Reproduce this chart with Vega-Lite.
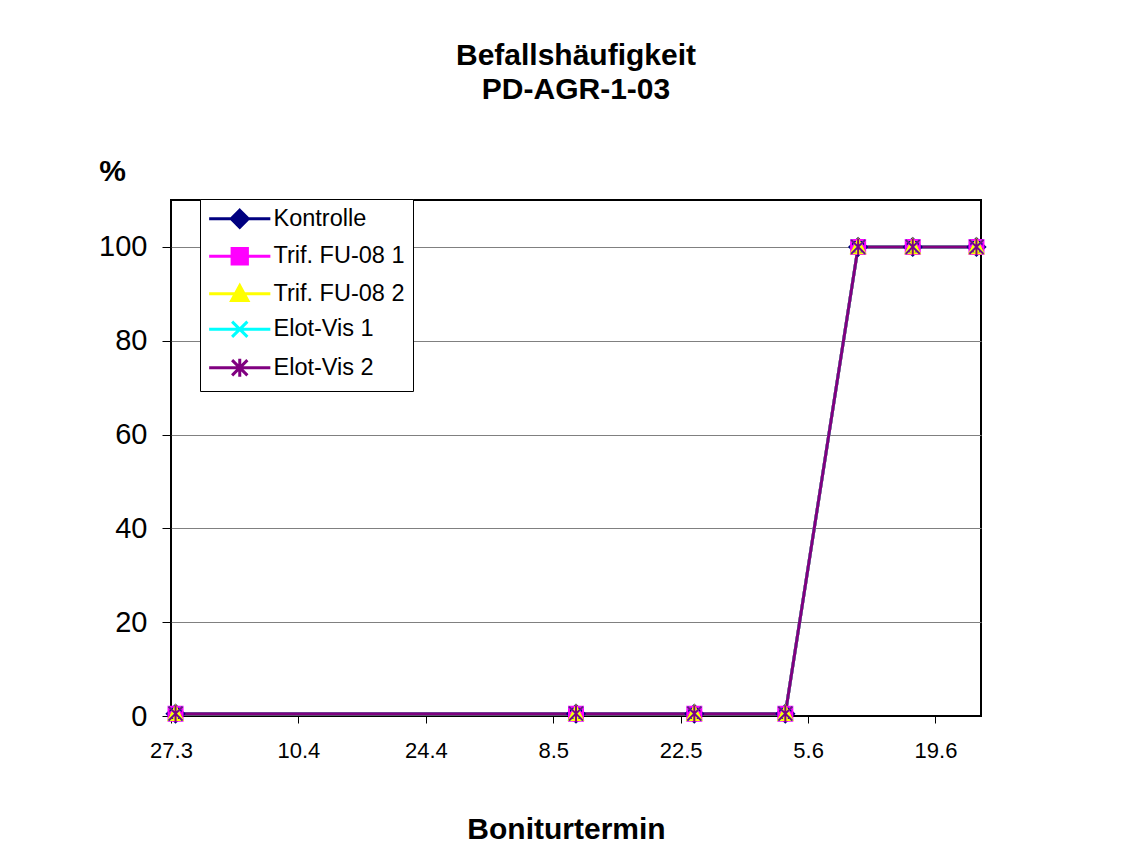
{
  "$schema": "https://vega.github.io/schema/vega-lite/v6.json",
  "width": 810,
  "height": 516,
  "autosize": {"type": "none"},
  "padding": {"left": 171, "top": 200, "right": 143, "bottom": 145},
  "background": "white",
  "config": {"view": {"stroke": "black", "strokeWidth": 2}, "font": "Liberation Sans"},
  "title": {
    "text": ["Befallshäufigkeit", "PD-AGR-1-03"],
    "fontSize": 30, "fontWeight": "bold", "font": "Liberation Sans", "color": "black",
    "lineHeight": 34, "anchor": "middle", "frame": "group", "baseline": "alphabetic", "offset": 27
  },
  "data": {"values": [
    {"date": "2003-03-27T12:00:00", "serie": "Kontrolle", "pct": 0.5},
    {"date": "2003-05-10T12:00:00", "serie": "Kontrolle", "pct": 0.5},
    {"date": "2003-05-23T12:00:00", "serie": "Kontrolle", "pct": 0.5},
    {"date": "2003-06-02T12:00:00", "serie": "Kontrolle", "pct": 0.5},
    {"date": "2003-06-10T12:00:00", "serie": "Kontrolle", "pct": 100},
    {"date": "2003-06-16T12:00:00", "serie": "Kontrolle", "pct": 100},
    {"date": "2003-06-23T12:00:00", "serie": "Kontrolle", "pct": 100},
    {"date": "2003-03-27T12:00:00", "serie": "Trif. FU-08 1", "pct": 0.5},
    {"date": "2003-05-10T12:00:00", "serie": "Trif. FU-08 1", "pct": 0.5},
    {"date": "2003-05-23T12:00:00", "serie": "Trif. FU-08 1", "pct": 0.5},
    {"date": "2003-06-02T12:00:00", "serie": "Trif. FU-08 1", "pct": 0.5},
    {"date": "2003-06-10T12:00:00", "serie": "Trif. FU-08 1", "pct": 100},
    {"date": "2003-06-16T12:00:00", "serie": "Trif. FU-08 1", "pct": 100},
    {"date": "2003-06-23T12:00:00", "serie": "Trif. FU-08 1", "pct": 100},
    {"date": "2003-03-27T12:00:00", "serie": "Trif. FU-08 2", "pct": 0.5},
    {"date": "2003-05-10T12:00:00", "serie": "Trif. FU-08 2", "pct": 0.5},
    {"date": "2003-05-23T12:00:00", "serie": "Trif. FU-08 2", "pct": 0.5},
    {"date": "2003-06-02T12:00:00", "serie": "Trif. FU-08 2", "pct": 0.5},
    {"date": "2003-06-10T12:00:00", "serie": "Trif. FU-08 2", "pct": 100},
    {"date": "2003-06-16T12:00:00", "serie": "Trif. FU-08 2", "pct": 100},
    {"date": "2003-06-23T12:00:00", "serie": "Trif. FU-08 2", "pct": 100},
    {"date": "2003-03-27T12:00:00", "serie": "Elot-Vis 1", "pct": 0.5},
    {"date": "2003-05-10T12:00:00", "serie": "Elot-Vis 1", "pct": 0.5},
    {"date": "2003-05-23T12:00:00", "serie": "Elot-Vis 1", "pct": 0.5},
    {"date": "2003-06-02T12:00:00", "serie": "Elot-Vis 1", "pct": 0.5},
    {"date": "2003-06-10T12:00:00", "serie": "Elot-Vis 1", "pct": 100},
    {"date": "2003-06-16T12:00:00", "serie": "Elot-Vis 1", "pct": 100},
    {"date": "2003-06-23T12:00:00", "serie": "Elot-Vis 1", "pct": 100},
    {"date": "2003-03-27T12:00:00", "serie": "Elot-Vis 2", "pct": 0.5},
    {"date": "2003-05-10T12:00:00", "serie": "Elot-Vis 2", "pct": 0.5},
    {"date": "2003-05-23T12:00:00", "serie": "Elot-Vis 2", "pct": 0.5},
    {"date": "2003-06-02T12:00:00", "serie": "Elot-Vis 2", "pct": 0.5},
    {"date": "2003-06-10T12:00:00", "serie": "Elot-Vis 2", "pct": 100},
    {"date": "2003-06-16T12:00:00", "serie": "Elot-Vis 2", "pct": 100},
    {"date": "2003-06-23T12:00:00", "serie": "Elot-Vis 2", "pct": 100}
  ]},
  "encoding": {
    "x": {
      "field": "date", "type": "temporal",
      "scale": {"domain": [{"year": 2003, "month": 3, "date": 27}, {"year": 2003, "month": 6, "date": 24}]},
      "axis": {
        "values": [
          {"year": 2003, "month": 3, "date": 27},
          {"year": 2003, "month": 4, "date": 10},
          {"year": 2003, "month": 4, "date": 24},
          {"year": 2003, "month": 5, "date": 8},
          {"year": 2003, "month": 5, "date": 22},
          {"year": 2003, "month": 6, "date": 5},
          {"year": 2003, "month": 6, "date": 19}
        ],
        "format": "%-d.%-m",
        "labelFontSize": 22, "labelColor": "black", "labelFont": "Liberation Sans",
        "labelBaseline": "alphabetic", "labelPadding": 34, "labelFlush": false, "labelOverlap": false,
        "tickColor": "black", "tickSize": 7, "tickWidth": 1,
        "domain": false, "grid": false,
        "title": "Boniturtermin", "titleFontSize": 30, "titleFontWeight": "bold", "titleColor": "black",
        "titleFont": "Liberation Sans", "titleX": 395, "titleY": 122, "titleBaseline": "alphabetic", "titleAlign": "center"
      }
    },
    "y": {
      "field": "pct", "type": "quantitative",
      "scale": {"domain": [0, 110], "nice": false},
      "axis": {
        "values": [0, 20, 40, 60, 80, 100],
        "labelFontSize": 29, "labelColor": "black", "labelFont": "Liberation Sans", "labelPadding": 15,
        "tickColor": "black", "tickSize": 9, "tickWidth": 1,
        "domain": false, "grid": true,
        "gridColor": {"condition": {"test": "datum.value === 0", "value": "transparent"}, "value": "#808080"},
        "gridWidth": 1,
        "title": "%", "titleAngle": 0, "titleX": -59, "titleY": -20, "titleAlign": "center", "titleBaseline": "alphabetic",
        "titleFontSize": 30, "titleFontWeight": "bold", "titleColor": "black", "titleFont": "Liberation Sans"
      }
    }
  },
  "layer": [
    {
      "mark": {"type": "line", "strokeWidth": 3},
      "encoding": {
        "color": {
          "field": "serie", "type": "nominal",
          "scale": {
            "domain": ["Kontrolle", "Trif. FU-08 1", "Trif. FU-08 2", "Elot-Vis 1", "Elot-Vis 2"],
            "range": ["#000080", "#FF00FF", "#FFFF00", "#00FFFF", "#800080"]
          },
          "legend": {
            "title": null, "orient": "none", "legendX": 29, "legendY": -1,
            "padding": 8, "fillColor": "white", "strokeColor": "black", "cornerRadius": 0,
            "labelFont": "Liberation Sans", "labelFontSize": 23.5, "labelColor": "black", "labelLimit": 400,
            "symbolSize": 324, "symbolStrokeWidth": 3, "rowPadding": 8.5, "labelOffset": 22, "symbolOffset": 20,
            "encode": {
              "symbols": {
                "update": {
                  "shape": {"signal": "datum.value === 'Kontrolle' ? 'M-3.4,0H3.4M0,-0.95L0.95,0L0,0.95L-0.95,0Z' : datum.value === 'Trif. FU-08 1' ? 'M-3.4,0H3.4M-0.85,-0.85H0.85V0.85H-0.85Z' : datum.value === 'Trif. FU-08 2' ? 'M-3.4,0H3.4M0,-0.9L0.9,0.75H-0.9Z' : datum.value === 'Elot-Vis 1' ? 'M-3.4,0H3.4M-0.85,-0.85L0.85,0.85M-0.85,0.85L0.85,-0.85' : 'M-3.4,0H3.4M-0.85,-0.85L0.85,0.85M-0.85,0.85L0.85,-0.85M0,-1V1'"},
                  "fill": {"scale": "color", "field": "value"},
                  "stroke": {"scale": "color", "field": "value"},
                  "strokeWidth": {"value": 3},
                  "opacity": {"value": 1}
                }
              }
            }
          }
        }
      }
    },
    {
      "mark": {"type": "point", "filled": true, "opacity": 1, "size": 196},
      "encoding": {
        "color": {"field": "serie", "type": "nominal"},
        "shape": {
          "field": "serie", "type": "nominal", "legend": null,
          "scale": {
            "domain": ["Elot-Vis 2", "Elot-Vis 1", "Trif. FU-08 2", "Trif. FU-08 1", "Kontrolle"],
            "range": ["M-1,-1L1,1M-1,1L1,-1M0,-1.2V1.2", "M-1,-1L1,1M-1,1L1,-1", "M0,-1.1L1,0.9H-1Z", "M-1,-1H1V1H-1Z", "M0,-1.25L1.25,0L0,1.25L-1.25,0Z"]
          }
        }
      }
    },
    {
      "mark": {"type": "point", "filled": false, "opacity": 1, "size": 196, "strokeWidth": 2},
      "encoding": {
        "color": {"field": "serie", "type": "nominal"},
        "shape": {"field": "serie", "type": "nominal", "legend": null}
      }
    }
  ]
}
